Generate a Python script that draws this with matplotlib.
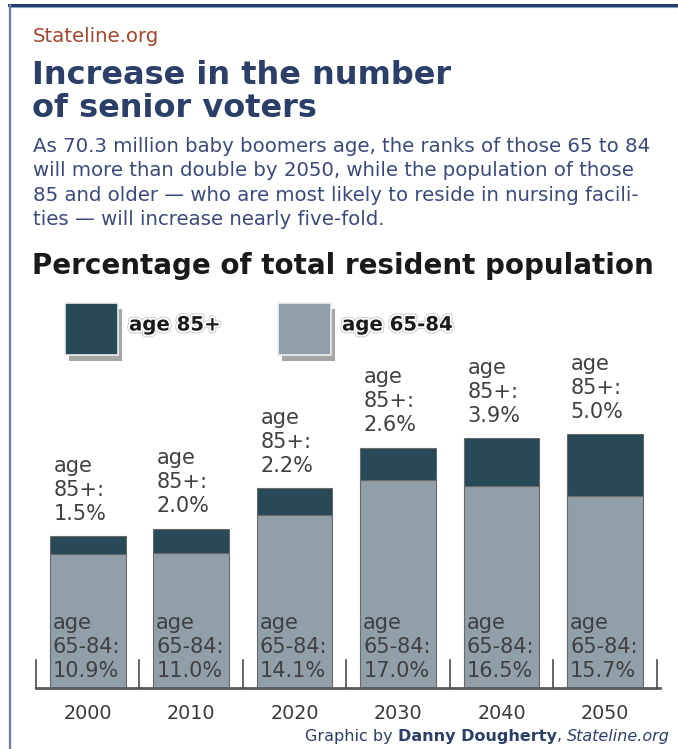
import matplotlib
matplotlib.use("Agg")
import matplotlib.pyplot as plt
import matplotlib.patheffects as pe
from matplotlib.patches import Rectangle
from matplotlib.lines import Line2D

years = ["2000", "2010", "2020", "2030", "2040", "2050"]
age_65_84 = [10.9, 11.0, 14.1, 17.0, 16.5, 15.7]
age_85_plus = [1.5, 2.0, 2.2, 2.6, 3.9, 5.0]

dark = "#284957"
light = "#909fa8"
navy = "#2b3f68"
W, H = 678, 749


def fx(px):
    return px / W


def fy(py):
    return 1 - py / H


fig = plt.figure(figsize=(W / 100, H / 100), dpi=100)
fig.patch.set_facecolor("white")

# frame lines (top and left)
fig.add_artist(Line2D([fx(9), 1], [fy(5), fy(5)], color="#24406a", lw=2.2))
fig.add_artist(Line2D([fx(9), 1], [fy(7), fy(7)], color="#8a9cc0", lw=0.8))
fig.add_artist(Line2D([fx(10), fx(10)], [fy(5), 0], color="#6a78a8", lw=1.6))

# header texts
fig.text(fx(33), fy(36), "Stateline.org", color="#a3462c", fontsize=14.2,
         va="center", ha="left")
fig.text(fx(32), fy(92), "Increase in the number\nof senior voters", color=navy,
         fontsize=23, fontweight="bold", va="center", ha="left", linespacing=1.08)
fig.text(fx(33), fy(183),
         "As 70.3 million baby boomers age, the ranks of those 65 to 84\n"
         "will more than double by 2050, while the population of those\n"
         "85 and older \u2014 who are most likely to reside in nursing facili-\n"
         "ties \u2014 will increase nearly five-fold.",
         color="#3a4a7a", fontsize=14.2, va="center", ha="left", linespacing=1.35)
fig.text(fx(32), fy(266), "Percentage of total resident population",
         color="#1a1a1a", fontsize=20, fontweight="bold", va="center", ha="left")

# legend
shadow = [pe.SimplePatchShadow(offset=(3, -4), shadow_rgbFace="#000000", alpha=0.35),
          pe.Normal()]
for x0, col, lab in [(65, dark, "age 85+"), (278, light, "age 65-84")]:
    r = Rectangle((fx(x0), fy(355)), fx(53), 52 / H, transform=fig.transFigure,
                  facecolor=col, edgecolor="#eeeeee", lw=1.2, path_effects=shadow)
    fig.add_artist(r)
    fig.text(fx(x0 + 64), fy(325), lab, fontsize=14.2, fontweight="bold",
             color="#1a1a1a", va="center", ha="left",
             path_effects=[pe.withStroke(linewidth=4, foreground="#d0d0d0"),
                           pe.withStroke(linewidth=2.5, foreground="white")])

# chart
ax = fig.add_axes([fx(36), 1 - 688 / H, fx(660 - 36), 24 * 12.25 / H])
ax.set_xlim(-0.5, 5.53)
ax.set_ylim(0, 24)
ax.axis("off")
x = list(range(len(years)))
bw = 0.73
ax.bar(x, age_65_84, width=bw, color=light, edgecolor="#6a6a6a", lw=0.8, zorder=2)
ax.bar(x, age_85_plus, bottom=age_65_84, width=bw, color=dark, edgecolor="#6a6a6a",
       lw=0.8, zorder=2)

# baseline and separators
ax.plot([-0.5, 5.53], [0, 0], color="#5a5a5a", lw=2, zorder=3, clip_on=False)
for i in range(len(years) + 1):
    ax.plot([i - 0.5, i - 0.5], [0, 2.3], color="#4a4a4a", lw=1.2, zorder=3,
            clip_on=False)

for i, yr in enumerate(years):
    left = i - bw / 2
    top = age_65_84[i] + age_85_plus[i]
    ax.annotate("age\n85+:\n%.1f%%" % age_85_plus[i], (left, top),
                xytext=(2.5, 9), textcoords="offset points", ha="left", va="bottom",
                fontsize=15, color="#404040", linespacing=1.25, zorder=4)
    ax.annotate("age\n65-84:\n%.1f%%" % age_65_84[i], (left, 0),
                xytext=(2, 5), textcoords="offset points", ha="left", va="bottom",
                fontsize=15, color="#404040", linespacing=1.25, zorder=4)
    ax.annotate(yr, (i, 0), xytext=(0, -18.5), textcoords="offset points",
                ha="center", va="center", fontsize=13.8, color="#3a3a3a")

# footer, built right to left
renderer = fig.canvas.get_renderer()
xr = fx(670)
yf = fy(736)
parts = [("Stateline.org", "normal", "italic"), (", ", "normal", "normal"),
         ("Danny Dougherty", "bold", "normal"), ("Graphic by ", "normal", "normal")]
for s, wgt, sty in parts:
    t = fig.text(xr, yf, s, fontsize=11.5, color=navy, fontweight=wgt, style=sty,
                 ha="right", va="center")
    bb = t.get_window_extent(renderer)
    xr -= bb.width / W

fig.savefig("out.png", dpi=100)
